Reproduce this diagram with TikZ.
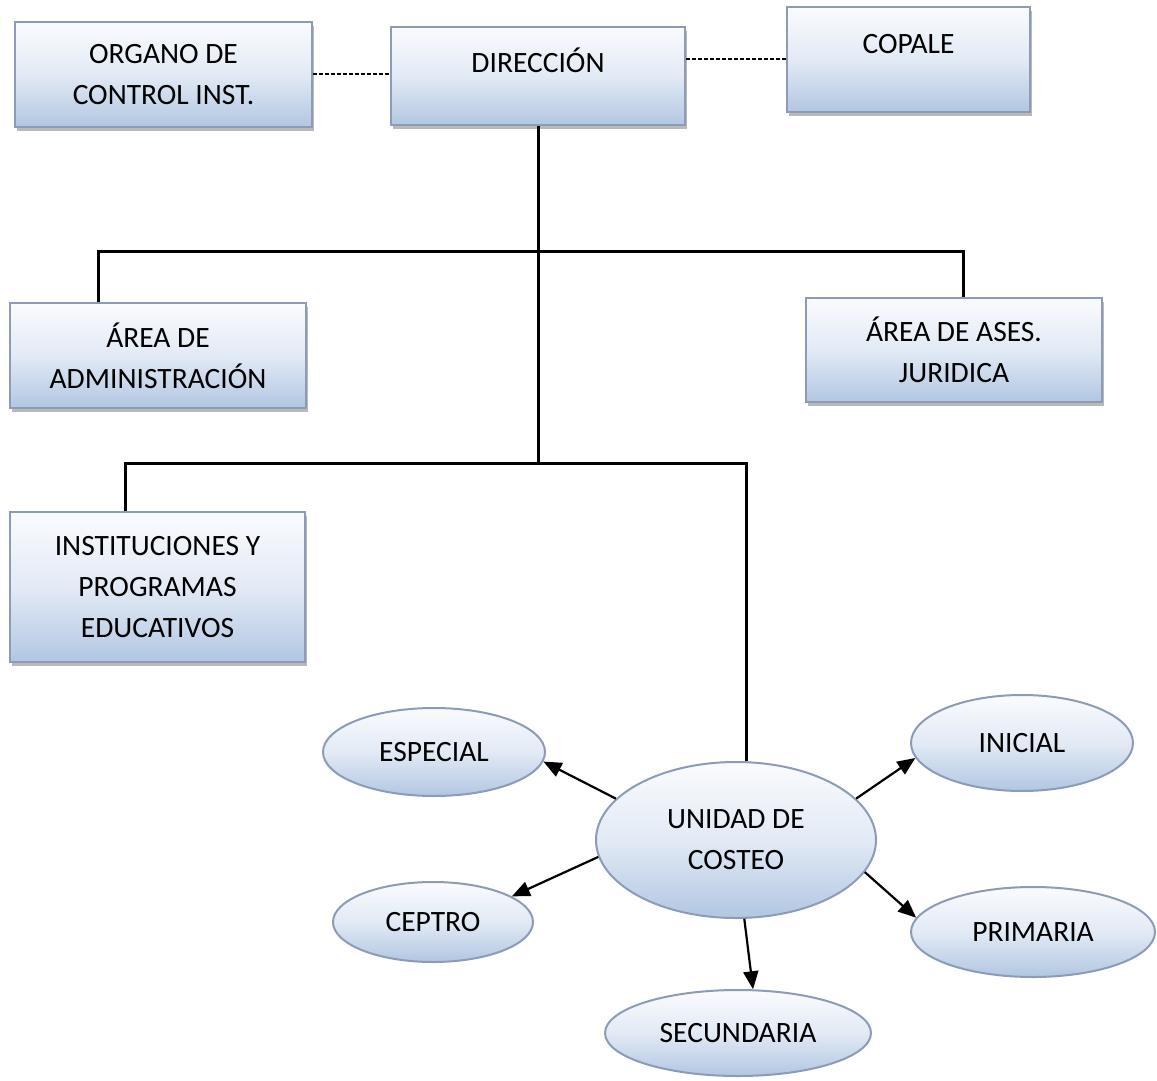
\documentclass[tikz,border=0pt]{standalone}
\usepackage{fontspec}
\setmainfont{Carlito}
\usetikzlibrary{shapes.geometric,arrows.meta,shadows,calc}
\definecolor{gtop}{RGB}{250,251,254}
\definecolor{gmid}{RGB}{226,234,245}
\definecolor{gbot}{RGB}{178,198,226}
\definecolor{edge}{RGB}{140,155,182}
\begin{document}
\begin{tikzpicture}[x=1pt,y=-1pt,
  every node/.style={font=\fontsize{29.5}{41}\selectfont, text=black},
  orgbox/.style={rectangle, draw=edge, line width=1.2, top color=gtop, bottom color=gbot, middle color=gmid,
     align=center, inner sep=0pt,
     drop shadow={shadow xshift=2pt, shadow yshift=-4pt, opacity=0.55, fill=black!50}},
  orgell/.style={ellipse, draw=edge, line width=2, top color=gtop, bottom color=gbot, middle color=gmid,
     align=center, inner sep=0pt},
  tree/.style={line width=3, black},
  dotted link/.style={line width=2, dash pattern=on 4pt off 2pt},
  arr/.style={line width=2.2, -{Triangle[length=18pt,width=15pt]}}
]
\useasboundingbox (0,0) rectangle (1157,1081);

% boxes
\node[orgbox, minimum width=297, minimum height=105] (organo) at (163.5,74.5) {ORGANO DE\\CONTROL INST.};
\node[orgbox, minimum width=294, minimum height=98,
      label={[yshift=16pt, font=\fontsize{29.5}{41}\selectfont]center:DIRECCIÓN}] (direccion) at (538,76) {};
\node[orgbox, minimum width=243, minimum height=105,
      label={[yshift=15pt, font=\fontsize{29.5}{41}\selectfont]center:COPALE}] (copale) at (908.5,59.5) {};
\node[orgbox, minimum width=296, minimum height=105] (admin) at (158,355.5) {ÁREA DE\\ADMINISTRACIÓN};
\node[orgbox, minimum width=296, minimum height=104] (ases) at (954,350) {ÁREA DE ASES.\\JURIDICA};
\node[orgbox, minimum width=295, minimum height=150] (inst) at (157.5,587) {INSTITUCIONES Y\\PROGRAMAS\\EDUCATIVOS};

% ellipses
\node[orgell, minimum width=280, minimum height=156] (unidad) at (736,840) {UNIDAD DE\\COSTEO};
\node[orgell, minimum width=222, minimum height=88] (especial) at (434,752) {ESPECIAL};
\node[orgell, minimum width=200, minimum height=80] (ceptro) at (433,922) {CEPTRO};
\node[orgell, minimum width=222, minimum height=96] (inicial) at (1022,743) {INICIAL};
\node[orgell, minimum width=244, minimum height=90] (primaria) at (1033,932) {PRIMARIA};
\node[orgell, minimum width=266, minimum height=86] (secundaria) at (738,1033) {SECUNDARIA};

% dashed links
\draw[dotted link] (organo.east) -- (organo.east -| direccion.west);
\draw[dotted link] (copale.west) -- (copale.west -| direccion.east);

% tree
\coordinate (h1l) at (98,251);
\coordinate (h1r) at (963,251);
\coordinate (h2l) at (125,463);
\coordinate (h2r) at (746,463);
\coordinate (h2c) at (538,463);
\draw[tree] (direccion.south) -- (h2c);
\draw[tree] (admin.north -| h1l) -- (h1l) -- (h1r) -- (ases.north -| h1r);
\draw[tree] (inst.north -| h2l) -- (h2l) -- (h2r) -- (h2r |- unidad.north);

% arrows
\draw[arr] (unidad.161) -- (especial.-5);
\draw[arr] (unidad.187) -- (ceptro.18);
\draw[arr] (unidad.19.6) -- (inicial.188);
\draw[arr] (unidad.-14.7) -- (primaria.173);
\draw[arr] (unidad.-84) -- (secundaria.71);
\end{tikzpicture}
\end{document}
